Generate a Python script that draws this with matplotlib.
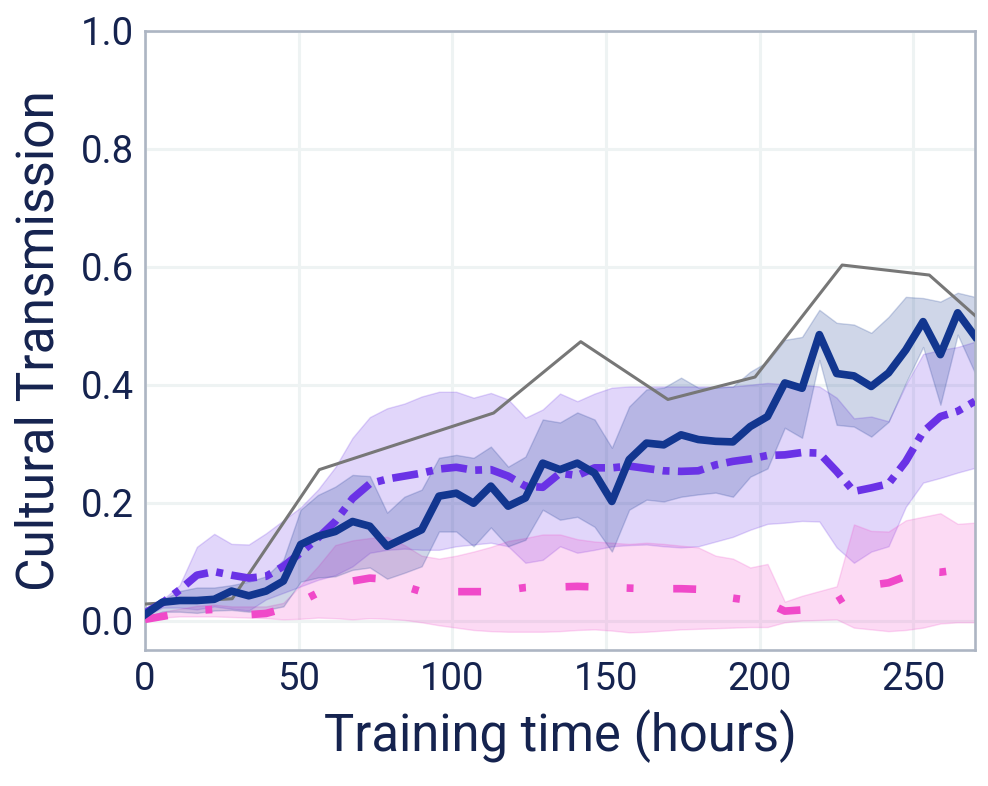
import numpy as np
import matplotlib
matplotlib.use("Agg")
import matplotlib.pyplot as plt

# ---------------- data ----------------
hours = np.linspace(0, 270, 49)

blue_mean = [0.010, 0.031, 0.034, 0.034, 0.036, 0.050, 0.042, 0.050, 0.067, 0.129,
             0.143, 0.151, 0.168, 0.160, 0.126, 0.140, 0.154, 0.211, 0.216, 0.199,
             0.228, 0.194, 0.208, 0.267, 0.256, 0.267, 0.250, 0.202, 0.273, 0.301,
             0.298, 0.315, 0.307, 0.304, 0.303, 0.329, 0.346, 0.403, 0.394, 0.485,
             0.419, 0.415, 0.397, 0.420, 0.459, 0.507, 0.451, 0.522, 0.482]
blue_hi = [0.019, 0.035, 0.050, 0.056, 0.056, 0.060, 0.066, 0.075, 0.103, 0.188,
           0.213, 0.227, 0.247, 0.245, 0.183, 0.210, 0.222, 0.276, 0.281, 0.276,
           0.295, 0.261, 0.278, 0.341, 0.336, 0.353, 0.341, 0.293, 0.363, 0.392,
           0.395, 0.412, 0.395, 0.395, 0.397, 0.422, 0.439, 0.476, 0.481, 0.527,
           0.505, 0.502, 0.488, 0.515, 0.549, 0.547, 0.541, 0.556, 0.549]
blue_lo = [0.005, 0.015, 0.015, 0.013, 0.017, 0.018, 0.015, 0.018, 0.024, 0.066,
           0.073, 0.075, 0.086, 0.090, 0.071, 0.081, 0.092, 0.151, 0.151, 0.126,
           0.158, 0.126, 0.137, 0.188, 0.171, 0.176, 0.159, 0.117, 0.188, 0.205,
           0.202, 0.210, 0.214, 0.217, 0.210, 0.244, 0.258, 0.327, 0.310, 0.442,
           0.332, 0.329, 0.312, 0.337, 0.403, 0.464, 0.366, 0.485, 0.420]

purple_mean = [0.013, 0.030, 0.052, 0.077, 0.083, 0.077, 0.072, 0.075, 0.092, 0.115,
               0.140, 0.168, 0.207, 0.232, 0.240, 0.245, 0.250, 0.257, 0.260, 0.255,
               0.256, 0.245, 0.228, 0.226, 0.250, 0.246, 0.259, 0.259, 0.262, 0.258,
               0.254, 0.253, 0.254, 0.264, 0.270, 0.274, 0.280, 0.281, 0.285, 0.284,
               0.253, 0.219, 0.225, 0.232, 0.270, 0.320, 0.346, 0.355, 0.372]
purple_hi = [0.015, 0.035, 0.060, 0.125, 0.147, 0.130, 0.129, 0.148, 0.170, 0.192,
             0.222, 0.260, 0.310, 0.345, 0.360, 0.368, 0.380, 0.388, 0.388, 0.378,
             0.386, 0.375, 0.344, 0.358, 0.385, 0.372, 0.385, 0.395, 0.397, 0.397,
             0.397, 0.397, 0.397, 0.397, 0.397, 0.400, 0.403, 0.401, 0.400, 0.397,
             0.378, 0.343, 0.346, 0.338, 0.400, 0.452, 0.459, 0.464, 0.473]
purple_lo = [0.007, 0.022, 0.022, 0.019, 0.024, 0.020, 0.017, 0.036, 0.047, 0.058,
             0.069, 0.077, 0.092, 0.115, 0.120, 0.122, 0.120, 0.120, 0.126, 0.129,
             0.132, 0.126, 0.098, 0.103, 0.126, 0.115, 0.120, 0.126, 0.128, 0.129,
             0.126, 0.124, 0.126, 0.134, 0.142, 0.154, 0.164, 0.166, 0.169, 0.168,
             0.124, 0.098, 0.117, 0.126, 0.193, 0.234, 0.242, 0.251, 0.259]

pink_mean = [0.002, 0.007, 0.012, 0.017, 0.019, 0.014, 0.010, 0.012, 0.020, 0.032,
             0.047, 0.060, 0.067, 0.072, 0.070, 0.058, 0.049, 0.048, 0.049, 0.049,
             0.049, 0.052, 0.056, 0.058, 0.057, 0.058, 0.057, 0.056, 0.055, 0.054,
             0.054, 0.054, 0.053, 0.048, 0.038, 0.034, 0.030, 0.016, 0.018, 0.024,
             0.032, 0.050, 0.060, 0.064, 0.075, 0.083, 0.082, 0.086, 0.095]
pink_hi = [0.003, 0.015, 0.020, 0.025, 0.027, 0.024, 0.024, 0.024, 0.030, 0.060,
           0.092, 0.128, 0.136, 0.140, 0.142, 0.128, 0.110, 0.105, 0.110, 0.117,
           0.125, 0.135, 0.140, 0.146, 0.146, 0.138, 0.134, 0.132, 0.130, 0.132,
           0.130, 0.127, 0.124, 0.110, 0.105, 0.090, 0.096, 0.032, 0.042, 0.050,
           0.058, 0.163, 0.152, 0.151, 0.170, 0.176, 0.182, 0.164, 0.166]
pink_lo = [0.000, 0.005, 0.007, 0.007, 0.007, 0.006, 0.005, 0.004, 0.002, 0.003,
           0.005, 0.004, 0.002, 0.004, 0.003, 0.001, -0.003, -0.008, -0.012, -0.016,
           -0.018, -0.019, -0.019, -0.019, -0.018, -0.016, -0.015, -0.017, -0.020, -0.019,
           -0.017, -0.015, -0.014, -0.013, -0.012, -0.011, -0.011, -0.003, 0.000, 0.001,
           0.002, -0.012, -0.015, -0.018, -0.016, -0.012, -0.005, -0.003, -0.003]

gray_hours = [0, 28.35, 56.7, 85.05, 113.4, 141.75, 170.1, 198.45, 226.8, 255.15, 283.5]
gray_vals = [0.028, 0.037, 0.256, 0.304, 0.352, 0.473, 0.375, 0.413, 0.603, 0.586, 0.455]

x_ticks = [0, 50, 100, 150, 200, 250]
y_ticks = [0.0, 0.2, 0.4, 0.6, 0.8, 1.0]

# ---------------- style ----------------
TEXT = "#15234f"
BLUE = "#12368f"
PURPLE = "#6a32e6"
PINK = "#f049c9"
GRAY = "#777777"

plt.rcParams["font.family"] = ["Roboto", "DejaVu Sans"]

fig = plt.figure(figsize=(9.88, 7.86), dpi=100)
ax = fig.add_axes([0.1468, 0.173, 0.9868 - 0.1468, 0.9606 - 0.173])

ax.fill_between(hours, purple_lo, purple_hi, color=PURPLE, alpha=0.2, lw=1)
ax.fill_between(hours, pink_lo, pink_hi, color=PINK, alpha=0.2, lw=1)
ax.fill_between(hours, blue_lo, blue_hi, color=BLUE, alpha=0.2, lw=1)

ax.plot(gray_hours, gray_vals, color=GRAY, lw=2.2, zorder=3)
ax.plot(hours, pink_mean, color=PINK, lw=5.5, dashes=(3.0, 5.0, 0.9, 5.2), zorder=4)
ax.plot(hours, purple_mean, color=PURPLE, lw=5.5, dashes=(3.4, 1.1, 0.9, 1.1), zorder=5)
ax.plot(hours, blue_mean, color=BLUE, lw=5.5, zorder=6)

ax.set_xlim(0, 270)
ax.set_ylim(-0.05, 1.0)
ax.set_xticks(x_ticks)
ax.set_yticks(y_ticks)
ax.set_yticklabels([f"{v:.1f}" for v in y_ticks])
ax.grid(True, color="#eef3f3", lw=2.2)
ax.set_axisbelow(True)
for s in ax.spines.values():
    s.set_color("#adb5c3")
    s.set_linewidth(1.9)
ax.tick_params(axis="both", length=0, labelsize=27.5, labelcolor=TEXT, pad=8)
ax.set_xlabel("Training time (hours)", fontsize=36.5, color=TEXT, labelpad=8)
ax.set_ylabel("Cultural Transmission", fontsize=37, color=TEXT, labelpad=12)

fig.savefig("out.png", dpi=100)
